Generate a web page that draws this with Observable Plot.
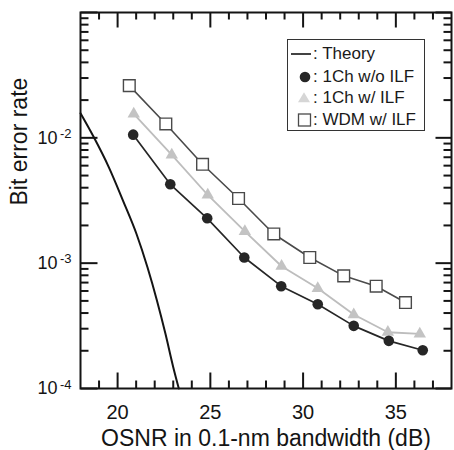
<!DOCTYPE html>
<html>
<head>
<meta charset="utf-8">
<script src="https://cdn.jsdelivr.net/npm/d3@7"></script>
<script src="https://cdn.jsdelivr.net/npm/@observablehq/plot@0.6"></script>
<style>
  body { margin: 0; background: #fff; }
  #wrap { position: relative; width: 454px; height: 450px; font-family: "Liberation Sans", Arial, Helvetica, sans-serif; }
  #legend { position: absolute; left: 287px; top: 39px; width: 138px; height: 92px; box-sizing: border-box;
            border: 1.3px solid #333; background: #fff; }
  .lrow { position: absolute; left: 0; height: 22px; line-height: 22px; font-size: 17px; color: #1a1a1a; white-space: nowrap; }
  .lrow .icon { position: absolute; left: 2px; top: 0; }
  .lrow span { position: absolute; left: 25px; top: 0; }
</style>
</head>
<body>
<div id="wrap"><div id="legend"></div></div>
<script>
// ---- data ----
const seriesNames = ["Theory", "1Ch w/o ILF", "1Ch w/ ILF", "WDM w/ ILF"];

const theoryOsnr = [18.0, 18.72, 19.53, 20.29, 21.02, 21.61, 22.12, 22.58, 23.0, 23.3];
const theoryBer  = [1.57e-2, 1.01e-2, 5.82e-3, 3.16e-3, 1.71e-3, 9.27e-4, 5.04e-4, 2.73e-4, 1.48e-4, 1.0e-4];

const noIlfOsnr = [20.84, 22.84, 24.83, 26.83, 28.82, 30.79, 32.73, 34.62, 36.45];
const noIlfBer  = [1.06e-2, 4.26e-3, 2.28e-3, 1.11e-3, 6.55e-4, 4.70e-4, 3.16e-4, 2.40e-4, 2.02e-4];

const ilfOsnr = [20.87, 22.92, 24.86, 26.86, 28.84, 30.79, 32.73, 34.57, 36.29];
const ilfBer  = [1.55e-2, 7.3e-3, 3.5e-3, 1.79e-3, 9.45e-4, 6.3e-4, 3.89e-4, 2.81e-4, 2.73e-4];

const wdmOsnr = [20.63, 22.60, 24.58, 26.52, 28.42, 30.36, 32.19, 33.94, 35.52];
const wdmBer  = [2.61e-2, 1.29e-2, 6.15e-3, 3.28e-3, 1.71e-3, 1.11e-3, 7.92e-4, 6.55e-4, 4.85e-4];

const xDomain = [18, 38];
const yDomain = [1e-4, 1e-1];
const xMajorTicks = [20, 25, 30, 35];
const xMinorTicks = [19, 21, 22, 23, 24, 26, 27, 28, 29, 31, 32, 33, 34, 36, 37];
const yDecadeTicks = [1e-4, 1e-3, 1e-2, 1e-1];
const yLabelTicks = [1e-4, 1e-3, 1e-2];
const yLabelBase = "10";
const yLabelExponents = ["-4", "-3", "-2"];
const yMinorMantissas = [2, 3, 4, 5, 6, 7, 8, 9];
const yMinorDecades = [1e-4, 1e-3, 1e-2];
const xTitle = ["OSNR in 0.1-nm bandwidth (dB)"];
const yTitle = ["Bit error rate"];

// ---- build tables ----
const toRows = (xs, ys) => xs.map((x, i) => ({x, y: ys[i]}));
const theory = toRows(theoryOsnr, theoryBer);
const noIlf = toRows(noIlfOsnr, noIlfBer);
const ilf = toRows(ilfOsnr, ilfBer);
const wdm = toRows(wdmOsnr, wdmBer);
const yMinorTicks = yMinorDecades.flatMap(d => yMinorMantissas.map(m => +(m * d).toPrecision(3)));
const yLabels = yLabelTicks.map((v, i) => ({v, e: yLabelExponents[i]}));

const W = 454, H = 450, ML = 80, MR = 3, MT = 12, MB = 62;
const FW = W - ML - MR, FH = H - MT - MB;

// tick lengths in pixels -> data units of each scale
const pxPerDb = FW / (xDomain[1] - xDomain[0]);
const pxPerDecade = FH / Math.log10(yDomain[1] / yDomain[0]);
const xIn = (fromEdge, px, dir) => fromEdge + dir * px / pxPerDb;
const yIn = (fromEdge, px, dir) => fromEdge * Math.pow(10, dir * px / pxPerDecade);

// inward tick segments on all four sides, as two-point paths
let segId = 0;
const tickSegs = [];
const addX = (ticks, edge, len, dir) => ticks.forEach(t => {
  const id = segId++;
  tickSegs.push({id, x: t, y: edge}, {id, x: t, y: yIn(edge, len, dir)});
});
const addY = (ticks, edge, len, dir) => ticks.forEach(t => {
  const id = segId++;
  tickSegs.push({id, x: edge, y: t}, {id, x: xIn(edge, len, dir), y: t});
});
addX(xMajorTicks, yDomain[0], 16, 1);
addX(xMinorTicks, yDomain[0], 8, 1);
addX(xMajorTicks, yDomain[1], 15, -1);
addX(xMinorTicks, yDomain[1], 7, -1);
addY(yDecadeTicks, xDomain[0], 17, 1);
addY(yMinorTicks, xDomain[0], 8, 1);
addY(yDecadeTicks, xDomain[1], 16, -1);
addY(yMinorTicks, xDomain[1], 8, -1);

const FONT = '"Liberation Sans", Arial, Helvetica, sans-serif';
const INK = "#141414";
const C_NOILF = "#262626", C_ILF = "#c3c3c3", C_ILF_LINE = "#bdbdbd", C_WDM = "#4a4a4a";

const chart = Plot.plot({
  width: W, height: H,
  marginLeft: ML, marginRight: MR, marginTop: MT, marginBottom: MB,
  x: {domain: xDomain, axis: null},
  y: {type: "log", domain: yDomain, axis: null},
  style: {fontFamily: FONT, color: INK, background: "white", overflow: "visible"},
  marks: [
    Plot.line(theory, {x: "x", y: "y", stroke: INK, strokeWidth: 2, curve: "monotone-x"}),
    Plot.line(wdm, {x: "x", y: "y", stroke: C_WDM, strokeWidth: 1.6}),
    Plot.line(ilf, {x: "x", y: "y", stroke: C_ILF_LINE, strokeWidth: 1.8}),
    Plot.line(noIlf, {x: "x", y: "y", stroke: C_NOILF, strokeWidth: 1.7}),
    Plot.dot(wdm, {x: "x", y: "y", symbol: "square", r: 6.6, fill: "white", stroke: C_WDM, strokeWidth: 1.4}),
    Plot.dot(ilf, {x: "x", y: "y", symbol: "triangle", r: 4.6, fill: C_ILF}),
    Plot.dot(noIlf, {x: "x", y: "y", symbol: "circle", r: 5.3, fill: C_NOILF}),
    Plot.line(tickSegs, {x: "x", y: "y", z: "id", stroke: INK, strokeWidth: 2, strokeLinecap: "butt"}),
    Plot.frame({stroke: INK, strokeWidth: 2}),
    Plot.text(xMajorTicks, {x: d => d, text: d => String(d), frameAnchor: "bottom", dy: 16, lineAnchor: "top", fontSize: 20, fill: INK}),
    Plot.text(yLabels, {y: "v", text: () => yLabelBase, frameAnchor: "left", dx: -23, textAnchor: "end", lineAnchor: "middle", fontSize: 18, fill: INK}),
    Plot.text(yLabels, {y: "v", text: "e", frameAnchor: "left", dx: -9, dy: -4, textAnchor: "end", lineAnchor: "middle", fontSize: 13, fill: INK}),
    Plot.text(xTitle, {text: d => d, frameAnchor: "bottom", dy: 50, lineAnchor: "middle", fontSize: 23, fill: INK}),
    Plot.text(yTitle, {text: d => d, frameAnchor: "left", dx: -60.5, dy: 5, rotate: -90, lineAnchor: "middle", fontSize: 23, fill: INK})
  ]
});
document.getElementById("wrap").prepend(chart);

// ---- legend (HTML overlay) ----
const legend = document.getElementById("legend");
const rowCenters = [14.3, 37, 58.3, 80];
const icons = [
  `<line x1="1" y1="11" x2="21" y2="11" stroke="${INK}" stroke-width="1.6"/>`,
  `<circle cx="15" cy="11" r="5.3" fill="${C_NOILF}"/>`,
  `<path d="M14,5.3 L20,15.3 L8,15.3 Z" fill="#d6d6d6"/>`,
  `<rect x="8.5" y="5" width="12" height="12" fill="white" stroke="${C_WDM}" stroke-width="1.3"/>`
];
seriesNames.forEach((name, i) => {
  const row = document.createElement("div");
  row.className = "lrow";
  row.style.top = (rowCenters[i] - 11) + "px";
  row.innerHTML = `<svg class="icon" width="24" height="22">${icons[i]}</svg><span>: ${name}</span>`;
  legend.appendChild(row);
});
</script>
</body>
</html>
